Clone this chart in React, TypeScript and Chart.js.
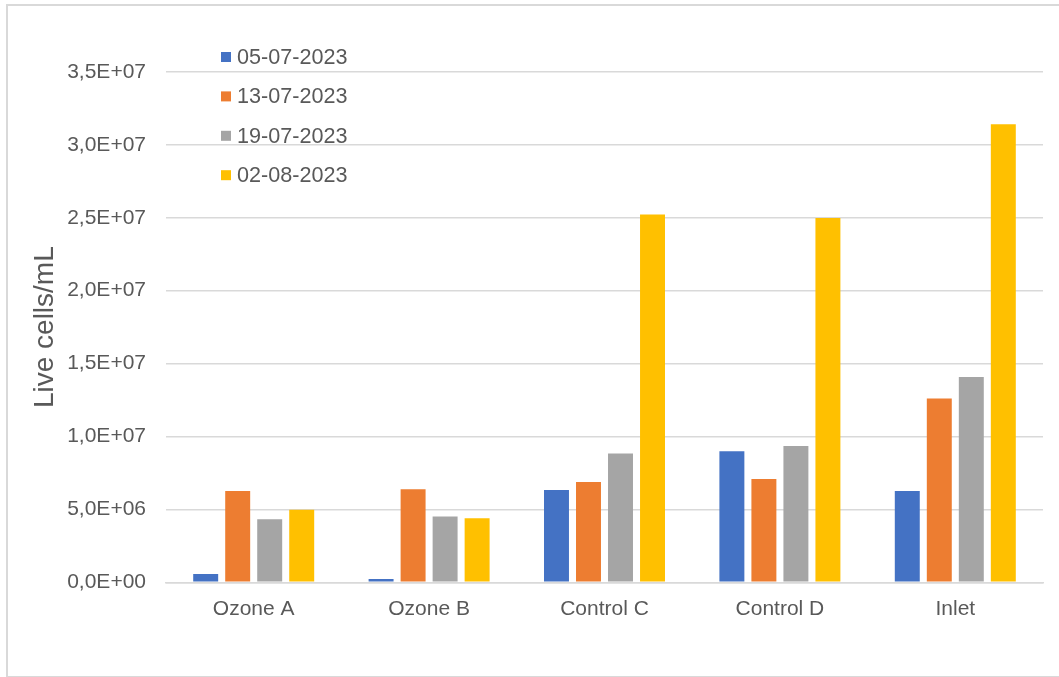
import React, { useEffect, useRef } from "react";
import { Chart, registerables } from "chart.js";

Chart.register(...registerables);

const categories = ["Ozone A", "Ozone B", "Control C", "Control D", "Inlet"];
const seriesLabels = ["05-07-2023", "13-07-2023", "19-07-2023", "02-08-2023"];
const seriesColors = ["#4472C4", "#ED7D31", "#A5A5A5", "#FFC000"];
const s0507 = [0.57e6, 0.23e6, 6.33e6, 8.98e6, 6.26e6];
const s1307 = [6.26e6, 6.39e6, 6.88e6, 7.08e6, 12.6e6];
const s1907 = [4.32e6, 4.52e6, 8.84e6, 9.34e6, 14.08e6];
const s0208 = [4.98e6, 4.39e6, 25.22e6, 24.99e6, 31.41e6];
const seriesValues = [s0507, s1307, s1907, s0208];
const yMax = 3.5e7;
const yStep = 5e6;
const yTitle = "Live cells/mL";

const FONT = "'Liberation Sans', Arial, sans-serif";
const TEXT = "#595959";

function fmt(v: number): string {
  if (v === 0) return "0,0E+00";
  const e = Math.floor(Math.log10(Math.abs(v)) + 1e-9);
  const m = v / Math.pow(10, e);
  const es = String(Math.abs(e)).padStart(2, "0");
  return m.toFixed(1).replace(".", ",") + "E" + (e >= 0 ? "+" : "-") + es;
}

const legendPlugin = {
  id: "insideLegend",
  afterDraw(chart: any) {
    const ctx = chart.ctx;
    ctx.save();
    ctx.font = `21.6px ${FONT}`;
    ctx.textBaseline = "middle";
    ctx.textAlign = "left";
    chart.data.datasets.forEach((ds: any, i: number) => {
      const cy = 57 + i * 39.4;
      ctx.fillStyle = ds.backgroundColor;
      ctx.fillRect(221, cy - 5, 10, 10);
      ctx.fillStyle = TEXT;
      ctx.fillText(ds.label, 237, cy + 1);
    });
    ctx.restore();
  },
};

export default function App() {
  const ref = useRef<HTMLCanvasElement>(null);
  useEffect(() => {
    if (!ref.current) return;
    const chart = new Chart(ref.current, {
      type: "bar",
      data: {
        labels: categories,
        datasets: seriesLabels.map((label, i) => ({
          label,
          data: seriesValues[i],
          backgroundColor: seriesColors[i],
          borderWidth: 0,
          categoryPercentage: 0.73,
          barPercentage: 0.78,
        })),
      },
      options: {
        responsive: false,
        animation: false,
        maintainAspectRatio: false,
        layout: { padding: { left: 28, top: 72, right: 16, bottom: 0 } },
        plugins: {
          legend: { display: false },
          tooltip: { enabled: false },
        },
        scales: {
          x: {
            grid: { display: false, drawTicks: false },
            border: { display: true, color: "#d9d9d9", width: 1.5 },
            ticks: {
              color: TEXT,
              font: { family: FONT, size: 21 },
              padding: 14,
              maxRotation: 0,
            },
            afterFit: (s: any) => {
              s.height = 94.7;
            },
          },
          y: {
            min: 0,
            max: yMax,
            grid: { color: "#d9d9d9", lineWidth: 1.5, drawTicks: false },
            border: { display: false },
            ticks: {
              stepSize: yStep,
              color: TEXT,
              font: { family: FONT, size: 21 },
              padding: 20,
              callback: (v: any) => fmt(Number(v)),
            },
            title: {
              display: true,
              text: yTitle,
              color: TEXT,
              font: { family: FONT, size: 28 },
              padding: { top: 0, bottom: 0 },
            },
            afterFit: (s: any) => {
              s.width = 138;
            },
          },
        },
      },
      plugins: [legendPlugin],
    });
    return () => chart.destroy();
  }, []);

  return (
    <div
      style={{
        position: "absolute",
        left: 0,
        top: 0,
        width: 1059,
        height: 677,
        overflow: "hidden",
        background: "#fff",
      }}
    >
      <div
        style={{
          position: "absolute",
          left: 6,
          top: 4,
          width: 1070,
          height: 674,
          border: "2px solid #d9d9d9",
          boxSizing: "border-box",
        }}
      />
      <canvas
        ref={ref}
        width={1059}
        height={677}
        style={{ position: "absolute", left: 0, top: 0, width: 1059, height: 677 }}
      />
    </div>
  );
}
